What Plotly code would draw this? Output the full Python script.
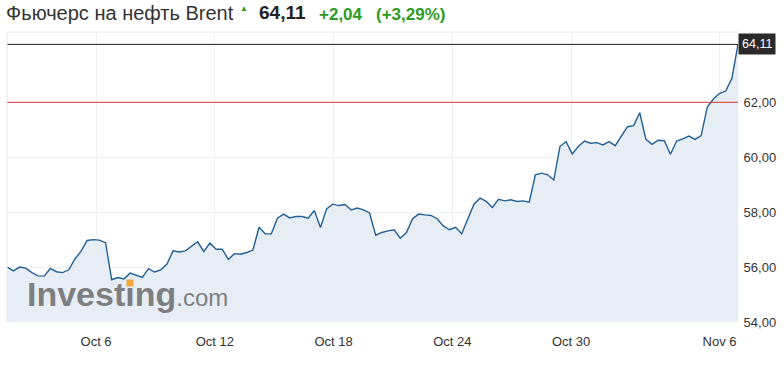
import numpy as np
import plotly.graph_objects as go

# ---- data ----
title_text = "Фьючерс на нефть Brent"
last_price = 64.11
change_abs = "+2,04"
change_pct = "(+3,29%)"
ref_level = 62.00

tick_days = [3, 7, 11, 15, 19, 24]          # trading-day index (from Oct 3)
tick_labels = ["Oct 6", "Oct 12", "Oct 18", "Oct 24", "Oct 30", "Nov 6"]
y_ticks = [54, 56, 58, 60, 62]

prices = [
    56.00, 55.86, 56.00, 55.96, 55.80, 55.68, 55.67, 55.95, 55.83, 55.80,
    55.90, 56.29, 56.57, 56.97, 57.00, 56.98, 56.89, 55.54, 55.62, 55.57,
    55.78, 55.69, 55.62, 55.94, 55.82, 55.90, 56.11, 56.59, 56.55, 56.59,
    56.75, 56.92, 56.57, 56.87, 56.65, 56.65, 56.28, 56.49, 56.47, 56.53,
    56.62, 57.45, 57.21, 57.21, 57.78, 57.93, 57.79, 57.84, 57.84, 57.78,
    58.06, 57.44, 58.12, 58.29, 58.24, 58.28, 58.08, 58.15, 58.08, 57.97,
    57.16, 57.26, 57.32, 57.36, 57.05, 57.26, 57.76, 57.93, 57.90, 57.88,
    57.76, 57.50, 57.36, 57.45, 57.21, 57.75, 58.29, 58.51, 58.39, 58.17,
    58.47, 58.41, 58.45, 58.39, 58.41, 58.36, 59.36, 59.42, 59.36, 59.17,
    60.39, 60.57, 60.12, 60.39, 60.59, 60.51, 60.53, 60.45, 60.57, 60.42,
    60.75, 61.11, 61.15, 61.62, 60.65, 60.47, 60.62, 60.60, 60.11, 60.59,
    60.67, 60.77, 60.65, 60.79, 61.83, 62.12, 62.33, 62.41, 62.87, 64.11,
]
x_start, x_end = 0.01, 24.62   # first / last sample in trading days
days = np.linspace(x_start, x_end, len(prices))

# ---- layout geometry ----
W, H = 784, 366
ML, MR, MT, MB = 7, 46, 32, 44
PW, PH = W - ML - MR, H - MT - MB


def px(xp):
    return (xp - ML) / PW


def py(yp):
    return (H - MB - yp) / PH


FONT = "Liberation Sans, Arial, sans-serif"
GREEN = "#2e9b1f"
LINE = "#245f95"
FILL = "#e6edf5"
GRID = "#eef1f5"

fig = go.Figure()
fig.add_trace(go.Scatter(
    x=days, y=prices, mode="lines",
    line=dict(color=LINE, width=1.4),
    fill="tozeroy", fillcolor=FILL,
    hoverinfo="skip", showlegend=False,
))

shapes = [
    dict(type="line", xref="paper", x0=0, x1=1, yref="y", y0=ref_level, y1=ref_level,
         line=dict(color="#d8363c", width=1)),
    dict(type="line", xref="paper", x0=0, x1=1, yref="y", y0=last_price, y1=last_price,
         line=dict(color="#1e1e1e", width=1)),
    dict(type="line", xref="paper", x0=0, x1=1, yref="paper", y0=1, y1=1,
         line=dict(color="#e4e8ee", width=1)),
    dict(type="line", xref="paper", x0=0, x1=0, yref="paper", y0=0, y1=1,
         line=dict(color="#e4e8ee", width=1)),
]

annotations = [
    dict(text=title_text, x=px(4), y=py(13), xref="paper", yref="paper",
         xanchor="left", yanchor="middle", showarrow=False,
         font=dict(family=FONT, size=20, color="#333333")),
    dict(text="▲", x=px(244), y=py(9), xref="paper", yref="paper",
         xanchor="center", yanchor="middle", showarrow=False,
         font=dict(family=FONT, size=8, color=GREEN)),
    dict(text="<b>" + f"{last_price:.2f}".replace(".", ",") + "</b>", x=px(257), y=py(13),
         xref="paper", yref="paper", xanchor="left", yanchor="middle", showarrow=False,
         font=dict(family=FONT, size=19, color="#222222")),
    dict(text="<b>" + change_abs + "</b>", x=px(317), y=py(14), xref="paper", yref="paper",
         xanchor="left", yanchor="middle", showarrow=False,
         font=dict(family=FONT, size=17, color=GREEN)),
    dict(text="<b>" + change_pct + "</b>", x=px(374), y=py(14), xref="paper", yref="paper",
         xanchor="left", yanchor="middle", showarrow=False,
         font=dict(family=FONT, size=17, color=GREEN)),
    # price tag on the right axis
    dict(text=f"{last_price:.2f}".replace(".", ","), x=1, y=last_price, xref="paper", yref="y",
         xanchor="left", yanchor="middle", showarrow=False,
         bgcolor="#2a2a2a", borderpad=3,
         font=dict(family=FONT, size=12.5, color="#ffffff")),
    # watermark
    dict(text="<b>Investing</b><span style='font-size:24px'>.com</span>",
         x=px(25), y=py(294), xref="paper", yref="paper",
         xanchor="left", yanchor="middle", showarrow=False,
         font=dict(family=FONT, size=34, color="rgba(115,115,115,0.92)")),
    # orange dot of the watermark "i"
    dict(text=" ", x=px(129.5), y=py(282.5), xref="paper", yref="paper",
         xanchor="center", yanchor="middle", showarrow=False,
         width=6, height=6, borderpad=0, bgcolor="#f2a83b",
         font=dict(family=FONT, size=4, color="#f2a83b")),
]

fig.update_layout(
    width=W, height=H,
    margin=dict(l=ML, r=MR, t=MT, b=MB),
    paper_bgcolor="white", plot_bgcolor="white",
    separators=", ",
    shapes=shapes, annotations=annotations,
    font=dict(family=FONT, size=13, color="#333333"),
    xaxis=dict(
        range=[0, x_end], tickvals=tick_days, ticktext=tick_labels,
        showgrid=True, gridcolor=GRID, zeroline=False, showline=False,
        ticks="outside", ticklen=7, tickcolor="rgba(0,0,0,0)",
        tickfont=dict(family=FONT, size=13, color="#333333"),
    ),
    yaxis=dict(
        range=[54, 64.56], side="right", tickvals=y_ticks, tickformat=".2f",
        showgrid=True, gridcolor=GRID, zeroline=False, showline=False,
        ticks="outside", ticklen=2, tickcolor="rgba(0,0,0,0)",
        tickfont=dict(family=FONT, size=13, color="#333333"),
    ),
)

fig.write_html("out.html")
